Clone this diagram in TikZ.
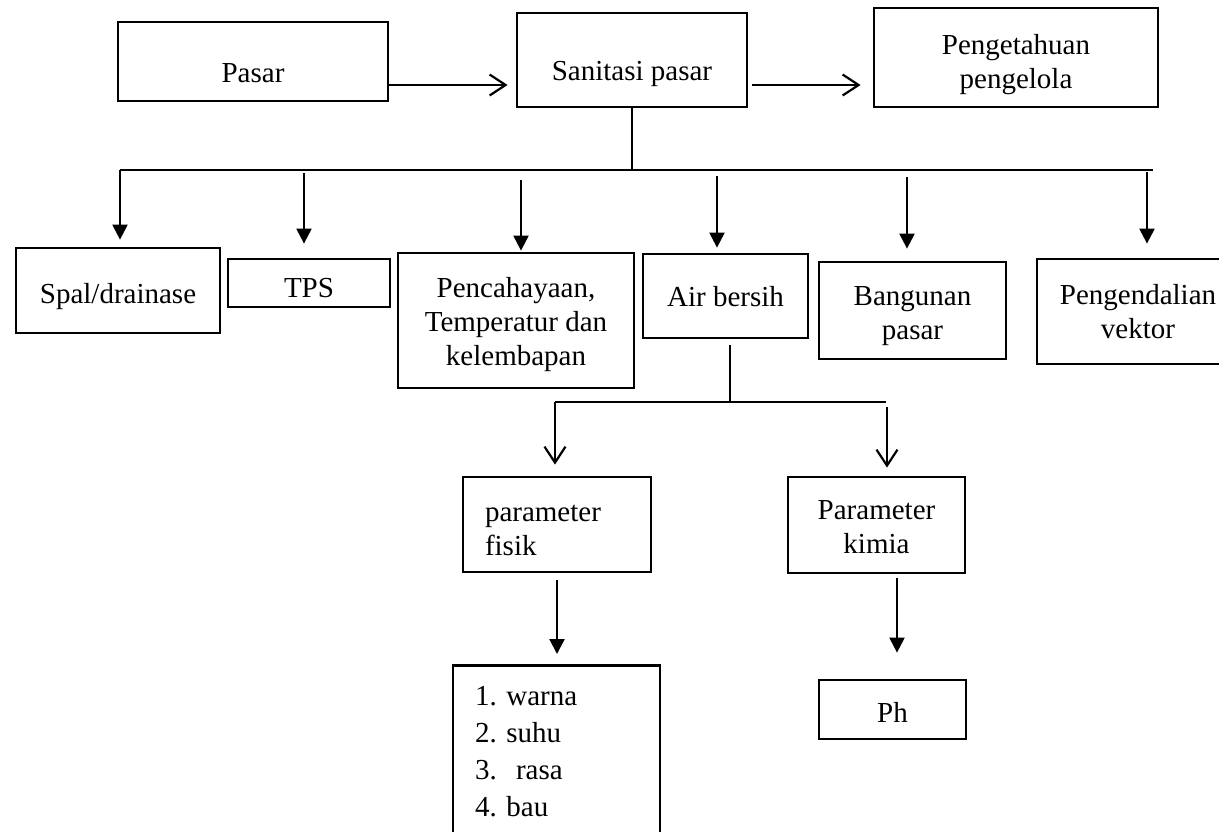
\documentclass[tikz,border=0pt]{standalone}
\usepackage{fontspec}
\setmainfont{Liberation Serif}
\usetikzlibrary{arrows.meta}
\frenchspacing
\newcommand\tegak[1]{\rule{0pt}{#1}}

\begin{document}
\begin{tikzpicture}[x=1pt, y=-1pt,
    kotak/.style={draw, line width=2.8pt, inner sep=0pt, align=center, font=\fontsize{29}{34}\selectfont},
    garis/.style={line width=1.2pt},
    panah/.style={line width=2.2pt, -{Triangle[length=15pt,width=15pt]}},
    panahbuka/.style={line width=2.2pt, -{Straight Barb[length=16pt,width=21pt]}}]
    \useasboundingbox (0,0) rectangle (1219,831);

    % Baris atas
    \node[kotak, minimum width=270pt, minimum height=79pt, text height=41pt, text depth=0pt] (pasar) at (253,61.5) {Pasar};
    \node[kotak, minimum width=230pt, minimum height=94pt, text height=40pt, text depth=0pt] (sanitasi) at (632,60) {Sanitasi pasar};
    \node[kotak, minimum width=284pt, minimum height=99pt] (pengetahuan) at (1016,57.5) {\tegak{34pt}Pengetahuan\\pengelola};

    \coordinate (a1) at ([yshift=-23.5pt]pasar.east);
    \coordinate (a2) at ([yshift=-25pt]sanitasi.east);
    \draw[panahbuka, shorten >=8pt] (a1) -- (a1 -| sanitasi.west);
    \draw[panahbuka, shorten <=4pt, shorten >=12pt] (a2) -- (a2 -| pengetahuan.west);

    % Baris kedua
    \node[kotak, minimum width=204pt, minimum height=85pt, text height=25pt, text depth=0pt] (spal) at (118,290.5) {Spal/drainase};
    \node[kotak, minimum width=162pt, minimum height=48pt, text height=28pt, text depth=0pt] (tps) at (309,283) {TPS};
    \node[kotak, minimum width=236pt, minimum height=135pt] (cahaya) at (516,320.5) {\tegak{28pt}Pencahayaan,\\Temperatur dan\\kelembapan};
    \node[kotak, minimum width=165pt, minimum height=84pt, text height=20pt, text depth=0pt] (air) at (725.5,296) {Air bersih};
    \node[kotak, minimum width=187pt, minimum height=97pt] (bangunan) at (912.5,310.5) {\tegak{30pt}Bangunan\\pasar};
    \node[kotak, minimum width=202pt, minimum height=105pt] (vektor) at (1138,311.5) {Pengendalian\\vektor};

    % Garis cabang dari sanitasi pasar
    \coordinate (busL) at (120,170);
    \coordinate (busR) at (1153,170);
    \draw[garis] (sanitasi.south) -- (sanitasi.south |- busL);
    \draw[garis] (busL) -- (busR);

    \coordinate (t2) at (304,173);
    \coordinate (t3) at (521,180);
    \coordinate (t4) at (717,176);
    \coordinate (t5) at (907,177);
    \coordinate (t6) at (1147,172);
    \draw[panah, shorten >=7pt] (busL) -- (busL |- spal.north);
    \draw[panah, shorten >=14pt] (t2) -- (t2 |- tps.north);
    \draw[panah, shorten >=1pt] (t3) -- (t3 |- cahaya.north);
    \draw[panah, shorten >=5pt] (t4) -- (t4 |- air.north);
    \draw[panah, shorten >=12pt] (t5) -- (t5 |- bangunan.north);
    \draw[panah, shorten >=14pt] (t6) -- (t6 |- vektor.north);

    % Parameter air bersih
    \node[kotak, minimum width=188pt, minimum height=95pt, text width=144pt, align=left] (fisik) at (557,524.5) {\tegak{28pt}parameter\\fisik};
    \node[kotak, minimum width=177pt, minimum height=96pt] (kimia) at (876.5,525) {\tegak{24pt}Parameter\\kimia};

    \coordinate (cab) at (730,402);
    \coordinate (cabL) at (555,402);
    \coordinate (cabR) at (886,402);
    \coordinate (t8) at (887,407);
    \draw[garis, shorten <=6pt] (cab |- air.south) -- (cab);
    \draw[garis] (cabL) -- (cabR);
    \draw[panahbuka, shorten >=11pt] (cabL) -- (cabL |- fisik.north);
    \draw[panahbuka, shorten >=8pt] (t8) -- (t8 |- kimia.north);

    % Baris bawah
    \node[kotak, anchor=north, minimum width=207pt, minimum height=172pt, text width=163pt, align=left,
        font=\fontsize{29}{37}\selectfont] (daftar) at (556.5,664) {1. warna\\2. suhu\\3.\ \ rasa\\4. bau};
    \node[kotak, minimum width=147pt, minimum height=59pt, text height=25pt, text depth=0pt] (ph) at (892.5,709.5) {Ph};

    \coordinate (t9) at (897,578);
    \draw[panah, shorten <=7pt, shorten >=10pt] (fisik.south) -- (fisik.south |- daftar.north);
    \draw[panah, shorten >=26pt] (t9) -- (t9 |- ph.north);
\end{tikzpicture}
\end{document}
